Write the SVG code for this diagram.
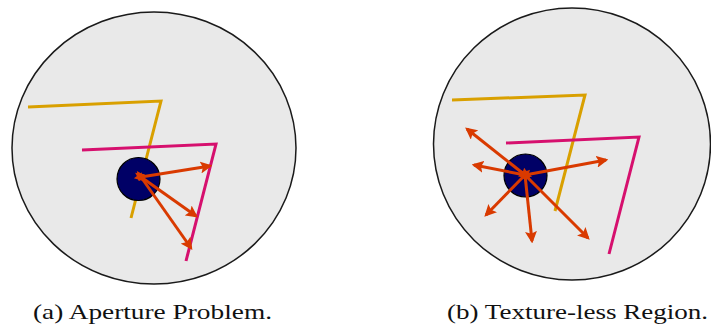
<svg xmlns="http://www.w3.org/2000/svg" width="711" height="325" viewBox="0 0 711 325">
<style>
.disk{fill:#e9e9e9;stroke:#1a1a1a;stroke-width:1.5}
.yel{fill:none;stroke:#d9a000;stroke-width:3}
.pink{fill:none;stroke:#d6106e;stroke-width:3}
.dot{fill:#000066;stroke:#000;stroke-width:1.2}
.arr{stroke:#d93a00;stroke-width:3;fill:none;marker-end:url(#ah);marker-start:url(#as)}
.cap{font-family:"Liberation Serif","DejaVu Serif",serif;font-size:21.5px;fill:#111}
</style>
<defs>
<marker id="ah" viewBox="0 0 10 10" refX="8" refY="5" markerWidth="4" markerHeight="4" orient="auto" markerUnits="strokeWidth">
<path d="M0,0 L10,5 L0,10 L2,5 z" fill="#d93a00"/>
</marker>
<marker id="as" viewBox="0 0 10 10" refX="2" refY="5" markerWidth="3" markerHeight="3" orient="auto-start-reverse" markerUnits="strokeWidth">
<path d="M0,0 L10,5 L0,10 L2,5 z" fill="#d93a00"/>
</marker>
</defs>
<g id="panel-a">
<ellipse class="disk" cx="154" cy="148" rx="142" ry="136"/>
<polyline class="yel" points="28,107 161,101 131,218"/>
<polyline class="pink" points="82,150 216,144 186,261"/>
<circle class="dot" cx="138.5" cy="179" r="21.5"/>
</g>
<g id="connectors-a">
<line class="arr" x1="141" y1="177" x2="210" y2="166"/>
<line class="arr" x1="141" y1="177" x2="196" y2="216"/>
<line class="arr" x1="141" y1="177" x2="191" y2="248"/>
</g>
<g id="panel-b">
<ellipse class="disk" cx="572" cy="144" rx="138.5" ry="136"/>
<polyline class="yel" points="452,100 585,95 555,211"/>
<polyline class="pink" points="506,143 639,137 609,254"/>
<circle class="dot" cx="525.5" cy="175.5" r="21.5"/>
</g>
<g id="connectors-b">
<line class="arr" x1="525" y1="175" x2="467" y2="129"/>
<line class="arr" x1="525" y1="175" x2="474" y2="165"/>
<line class="arr" x1="525" y1="175" x2="606" y2="160"/>
<line class="arr" x1="525" y1="175" x2="486" y2="215"/>
<line class="arr" x1="525" y1="175" x2="532" y2="241"/>
<line class="arr" x1="525" y1="175" x2="588" y2="238"/>
</g>
<g id="captions">
<text class="cap" x="33" y="319" textLength="239" lengthAdjust="spacingAndGlyphs">(a) Aperture Problem.</text>
<text class="cap" x="447" y="319" textLength="261" lengthAdjust="spacingAndGlyphs">(b) Texture-less Region.</text>
</g>
</svg>
